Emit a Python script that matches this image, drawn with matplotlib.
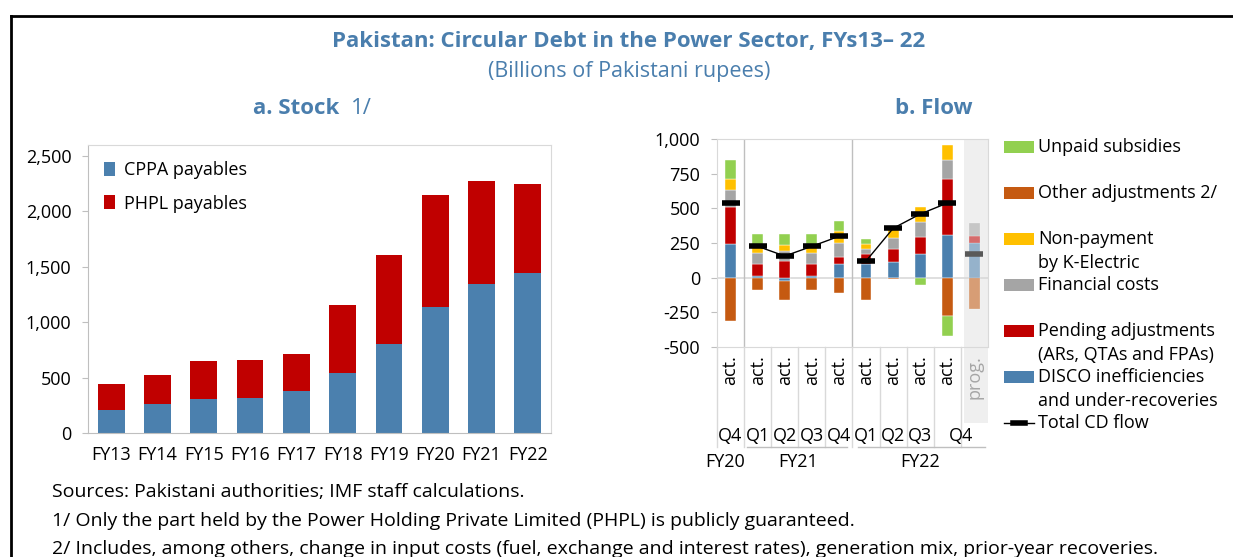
#! /usr/bin/env python3

"Pakistan circular debt in the power sector: stock (a) and quarterly flow (b)"

import matplotlib
matplotlib.use("Agg")
import matplotlib.pyplot as plt
import matplotlib.transforms as mtransforms
from matplotlib.patches import Rectangle
from matplotlib.lines import Line2D

plt.rcParams["font.family"] = ["Open Sans", "DejaVu Sans"]

# panel a: stock
years = ["FY13", "FY14", "FY15", "FY16", "FY17", "FY18", "FY19", "FY20", "FY21", "FY22"]
cppa = [204, 264, 309, 318, 379, 544, 805, 1139, 1346, 1448]
phpl = [238, 262, 337, 337, 333, 616, 803, 1007, 932, 803]

# panel b: flow (act. quarters then the programmed Q4 FY22)
quarters = ["Q4", "Q1", "Q2", "Q3", "Q4", "Q1", "Q2", "Q3", "Q4", "Q4"]
status = ["act.", "act.", "act.", "act.", "act.", "act.", "act.", "act.", "act.", "prog."]
disco = [240, 15, -25, 15, 97, 97, 110, 171, 310, 248]
pending = [272, 82, 120, 82, 50, 74, 99, 125, 404, 55]
financial = [123, 83, 75, 83, 101, 38, 80, 108, 137, 91]
k_electric = [77, 44, 41, 48, 86, 34, 75, 104, 108, 0]
other_adj = [-310, -91, -135, -91, -108, -161, -8, 0, -276, -225]
subsidies = [134, 91, 79, 87, 73, 36, 0, -50, -144, 0]
total_cd = [541, 226, 156, 226, 298, 120, 356, 459, 538, 169]

BLUE = "#4B80AE"
RED = "#C00000"
ORANGE = "#C55A11"
YELLOW = "#FFC000"
GRAY = "#A5A5A5"
GREEN = "#92D050"
TITLE = "#4A7EAD"
FRAME = "#D9D9D9"

W, H = 1233, 557
fig = plt.figure(figsize=(W / 100, H / 100), dpi=100)


def box(l, t, r, b):
    return [l / W, 1 - b / H, (r - l) / W, (b - t) / H]


def fx(x):
    return x / W


def fy(y):
    return 1 - y / H


# outer border (left and top only visible)
fig.add_artist(Line2D([fx(11), fx(11)], [0, fy(16)], color="black", lw=2))
fig.add_artist(Line2D([fx(11), 1], [fy(16), fy(16)], color="black", lw=2))

fig.text(fx(629), fy(41), "Pakistan: Circular Debt in the Power Sector, FYs13\u2013 22",
         ha="center", va="center", fontsize=16, fontweight="bold", color=TITLE)
fig.text(fx(629), fy(72), "(Billions of Pakistani rupees)",
         ha="center", va="center", fontsize=15.5, color=TITLE)
fig.text(fx(253), fy(109), "a. Stock", ha="left", va="center",
         fontsize=16, fontweight="bold", color=TITLE)
fig.text(fx(351), fy(109), "1/", ha="left", va="center", fontsize=16, color=TITLE)
fig.text(fx(934), fy(109), "b. Flow", ha="center", va="center",
         fontsize=16, fontweight="bold", color=TITLE)

# ---------------- panel a ----------------
axa = fig.add_axes(box(88, 145, 551, 433))
xa = range(len(years))
axa.bar(xa, cppa, width=0.58, color=BLUE, label="CPPA payables")
axa.bar(xa, phpl, width=0.58, bottom=cppa, color=RED, label="PHPL payables")
axa.set_xlim(-0.5, 9.5)
axa.set_ylim(0, 2600)
axa.set_yticks(range(0, 2501, 500))
axa.set_yticklabels(["{:,}".format(v) for v in range(0, 2501, 500)])
axa.set_xticks(list(xa))
axa.set_xticklabels(years)
for s in axa.spines.values():
    s.set_color(FRAME)
axa.spines["left"].set_color("#BFBFBF")
axa.spines["bottom"].set_color("#BFBFBF")
axa.tick_params(axis="y", labelsize=13, length=4, color="#BFBFBF", pad=8)
axa.tick_params(axis="x", labelsize=13, length=0, pad=9)
axa.legend(loc="upper left", bbox_to_anchor=(0.0, 1.0), frameon=False, fontsize=13,
           handlelength=0.6, handleheight=0.8, handletextpad=0.5, labelspacing=0.85)

# ---------------- panel b ----------------
axb = fig.add_axes(box(717, 139, 988, 347))
xb = list(range(len(quarters)))
series = [(disco, BLUE), (pending, RED), (financial, GRAY),
          (k_electric, YELLOW), (other_adj, ORANGE), (subsidies, GREEN)]
pos = [0.0] * len(xb)
neg = [0.0] * len(xb)
for vals, col in series:
    for i, v in enumerate(vals):
        if v == 0:
            continue
        base = pos[i] if v > 0 else neg[i]
        alpha = 0.55 if status[i] == "prog." else 1.0
        axb.bar(xb[i], v, bottom=base, width=0.4, color=col, alpha=alpha,
                edgecolor="white", linewidth=0.3, zorder=3)
        if v > 0:
            pos[i] += v
        else:
            neg[i] += v

# total CD flow, broken at fiscal-year boundaries
groups = [[0], [1, 2, 3, 4], [5, 6, 7, 8]]
for g in groups:
    axb.plot([xb[i] for i in g], [total_cd[i] for i in g], color="black", lw=1,
             marker="_", ms=13, mew=4, zorder=5)
axb.plot([xb[9]], [total_cd[9]], color="#595959", marker="_", ms=13, mew=4,
         linestyle="none", zorder=5)

axb.set_xlim(-0.5, 9.5)
axb.set_ylim(-500, 1000)
axb.set_yticks(range(-500, 1001, 250))
axb.set_yticklabels(["{:,}".format(v) for v in range(-500, 1001, 250)])
axb.set_xticks([])
axb.axhline(0, color=FRAME, lw=1.2, zorder=1)
for xv in (0.5, 4.5):
    axb.axvline(xv, color="#BFBFBF", lw=1, zorder=1)
for s in axb.spines.values():
    s.set_color(FRAME)
axb.tick_params(axis="y", labelsize=13, length=4, color="#BFBFBF", pad=8)

# programme shading, running into the category area
trans = mtransforms.blended_transform_factory(axb.transData, axb.transAxes)
axb.add_patch(Rectangle((8.6, -0.365), 0.9, 1.365, transform=trans,
                        facecolor="#EFEFEF", edgecolor="none", clip_on=False, zorder=0))

# multi-level category axis
for k in range(len(xb)):
    axb.add_line(Line2D([k - 0.5, k - 0.5], [0, -0.48], transform=trans,
                        color=FRAME, lw=1, clip_on=False))
for i in xb:
    c = "#A6A6A6" if status[i] == "prog." else "black"
    axb.text(xb[i], -0.04, status[i], transform=trans, rotation=90, ha="center",
             va="top", fontsize=13, color=c)
for i in range(9):
    xq = xb[i] if i < 8 else (xb[8] + xb[9]) / 2
    axb.text(xq, -0.428, quarters[i], transform=trans, ha="center", va="center",
             fontsize=13)
axb.add_line(Line2D([0.6, 4.3], [-0.48, -0.48], transform=trans, color="#BFBFBF",
                    lw=1, clip_on=False))
axb.add_line(Line2D([4.7, 9.4], [-0.48, -0.48], transform=trans, color="#BFBFBF",
                    lw=1, clip_on=False))
axb.text(-0.2, -0.555, "FY20", transform=trans, ha="center", va="center", fontsize=13)
axb.text(2.5, -0.555, "FY21", transform=trans, ha="center", va="center", fontsize=13)
axb.text(7.0, -0.555, "FY22", transform=trans, ha="center", va="center", fontsize=13)

# legend for panel b, drawn by hand to keep Excel spacing
leg = [(GREEN, 147, ["Unpaid subsidies"]),
       (ORANGE, 193, ["Other adjustments 2/"]),
       (YELLOW, 239, ["Non-payment", "by K-Electric"]),
       (GRAY, 285, ["Financial costs"]),
       (RED, 331, ["Pending adjustments", "(ARs, QTAs and FPAs)"]),
       (BLUE, 377, ["DISCO inefficiencies", "and under-recoveries"])]
for col, yc, lines in leg:
    fig.add_artist(Rectangle((fx(1004), fy(yc + 6)), 30 / W, 12 / H,
                             facecolor=col, edgecolor="none"))
    for j, ln in enumerate(lines):
        fig.text(fx(1038), fy(yc + 24 * j), ln, ha="left", va="center", fontsize=13)
fig.add_artist(Line2D([fx(1004), fx(1034)], [fy(423), fy(423)], color="black", lw=1))
fig.add_artist(Line2D([fx(1013), fx(1025)], [fy(423), fy(423)], color="black", lw=4))
fig.text(fx(1038), fy(423), "Total CD flow", ha="left", va="center", fontsize=13)

# footnotes
notes = ["Sources: Pakistani authorities; IMF staff calculations.",
         "1/ Only the part held by the Power Holding Private Limited (PHPL) is publicly guaranteed.",
         "2/ Includes, among others, change in input costs (fuel, exchange and interest rates), "
         "generation mix, prior-year recoveries."]
for k, n in enumerate(notes):
    fig.text(fx(52), fy(492 + 28.5 * k), n, ha="left", va="center", fontsize=14)

fig.savefig("out.png", dpi=100)
